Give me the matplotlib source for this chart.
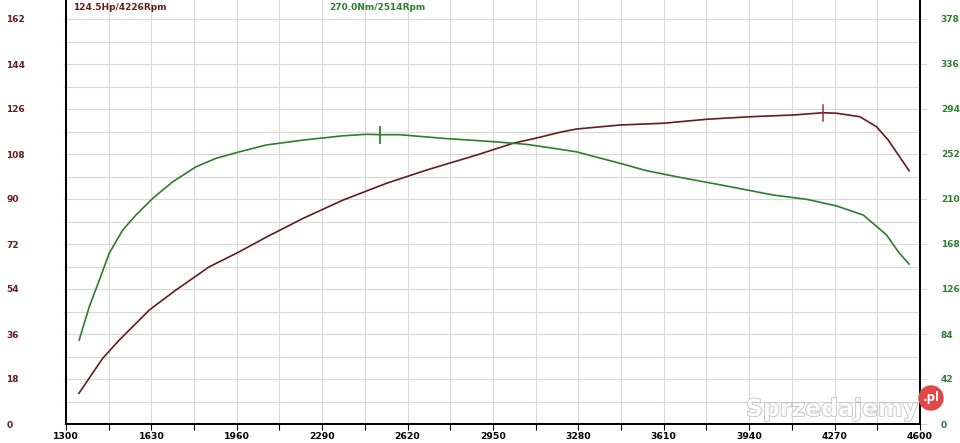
import numpy as np
import matplotlib
matplotlib.use("Agg")
import matplotlib.pyplot as plt
import matplotlib.patheffects as pe
from matplotlib.patches import Ellipse

# --- data ---
rpm_hp = [1350, 1442, 1506, 1622, 1725, 1854, 1970, 2073, 2217, 2371, 2539,
          2694, 2887, 3028, 3131, 3209, 3273, 3441, 3608, 3776, 3943, 4110,
          4226, 4278, 4368, 4432, 4477, 4558]
hp     = [12.3, 26.3, 33.6, 45.6, 53.6, 62.9, 68.9, 74.7, 82.3, 89.6, 96.3,
          101.6, 107.6, 112.3, 114.7, 116.7, 118.0, 119.6, 120.3, 121.9, 122.9,
          123.6, 124.5, 124.3, 122.9, 118.9, 113.6, 101.3]

rpm_nm = [1351, 1390, 1429, 1467, 1519, 1570, 1635, 1712, 1802, 1880, 1970,
          2073, 2217, 2371, 2462, 2514, 2590, 2758, 2951, 3080, 3209, 3273,
          3441, 3544, 3672, 3853, 4033, 4162, 4278, 4381, 4471, 4516, 4558]
nm     = [78.4, 109.5, 134.4, 159.3, 181, 195, 210.6, 226, 240, 248, 254,
          260.4, 265, 269, 270.4, 270.0, 270, 266.6, 263.5, 261, 256.4, 254,
          243.3, 236.4, 230.2, 222.1, 213.7, 209.7, 203.5, 195, 176.4, 160.8,
          149.3]

peak_hp = (4226, 124.5)
peak_nm = (2514, 270.0)

x_labels = [1300, 1630, 1960, 2290, 2620, 2950, 3280, 3610, 3940, 4270, 4600]
hp_ticks = [0, 18, 36, 54, 72, 90, 108, 126, 144, 162]
nm_ticks = [0, 42, 84, 126, 168, 210, 252, 294, 336, 378]

C_HP = "#641c1c"
C_NM = "#2f7d2f"

fig = plt.figure(figsize=(9.6, 4.43), dpi=100)
ax = fig.add_axes([66/960, 19/443, 854/960, 424/443])
ylim_hp = 162 + 19/2.5
ax.set_xlim(1300, 4600)
ax.set_ylim(0, ylim_hp)
ax2 = ax.twinx()
ax2.set_ylim(0, ylim_hp*378/162)

# grid
ax.set_xticks(x_labels)
ax.set_xticks(np.arange(1300, 4601, 165), minor=True)
ax.set_yticks(hp_ticks)
ax.set_yticks(np.arange(0, 163, 9), minor=True)
ax.grid(True, which="both", color="#d8d8d8", lw=0.8)
ax.set_axisbelow(True)
ax.tick_params(axis="x", which="both", direction="out", length=4, width=0.8,
               pad=2, labelsize=6.7, colors="black")
ax.tick_params(axis="y", which="both", direction="out", length=2, width=0.8,
               color="#d8d8d8", pad=41, labelsize=6.5, labelcolor=C_HP)
for t in ax.get_xticklabels():
    t.set_fontweight("bold")
for t in ax.get_yticklabels():
    t.set_fontweight("bold")
    t.set_horizontalalignment("left")

ax2.set_yticks(nm_ticks)
ax2.tick_params(axis="y", which="both", direction="out", length=5, width=0.8,
                color="#d8d8d8", pad=10, labelsize=6.5, labelcolor=C_NM)
for t in ax2.get_yticklabels():
    t.set_fontweight("bold")

for a in (ax, ax2):
    a.spines["top"].set_visible(False)
    for s in ("left", "right", "bottom"):
        a.spines[s].set_linewidth(1.3)
        a.spines[s].set_color("black")

# curves
ax.plot(rpm_hp, hp, color=C_HP, lw=1.2)
ax2.plot(rpm_nm, nm, color=C_NM, lw=1.2)
ax.plot([peak_hp[0]]*2, [peak_hp[1]-3.2, peak_hp[1]+3.2], color="#a03030", lw=1.1)
ax2.plot([peak_nm[0]]*2, [peak_nm[1]-7.5, peak_nm[1]+7.5], color=C_NM, lw=1.3)

fig.text(73/960, 1-7/443, f"{peak_hp[1]:.1f}Hp/{peak_hp[0]}Rpm", color=C_HP,
         fontsize=6.5, fontweight="bold", va="center")
fig.text(329/960, 1-7/443, f"{peak_nm[1]:.1f}Nm/{peak_nm[0]}Rpm", color=C_NM,
         fontsize=6.5, fontweight="bold", va="center")

# watermark
fig.text(832/960, 1-409/443, "Sprzedajemy", color="white", fontsize=17,
         fontweight="bold", ha="center", va="center", alpha=0.85,
         path_effects=[pe.withStroke(linewidth=1.2, foreground="#bbbbbb")])
fig.patches.append(Ellipse((931/960, 1-398/443), 24/960, 24/443,
                           transform=fig.transFigure, color="#e04848", zorder=5))
fig.text(931/960, 1-398/443, ".pl", color="white", fontsize=8.5,
         fontweight="bold", ha="center", va="center", zorder=6)

fig.savefig("out.png", dpi=100)
